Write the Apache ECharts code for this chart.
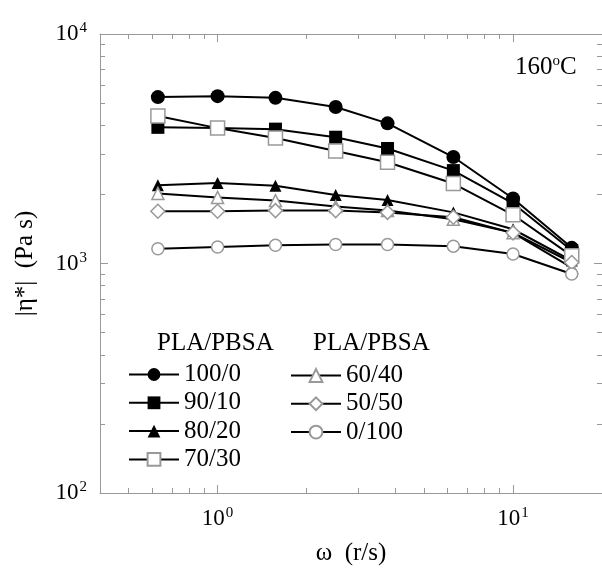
<!DOCTYPE html>
<html>
<head>
<meta charset="utf-8">
<title>Complex viscosity vs frequency</title>
<script src="https://cdn.jsdelivr.net/npm/echarts@6/dist/echarts.min.js"></script>
</head>
<body style="margin:0">
<div id="chart" style="width:602px;height:571px;"></div>
<script>
// frequency (r/s)
const omega = [0.628, 1.0, 1.57, 2.51, 3.76, 6.28, 10.0, 15.8];
// |eta*| (Pa s), PLA/PBSA blends
const eta_100_0 = [5310, 5360, 5270, 4810, 4080, 2910, 1920, 1170];
const eta_90_10 = [3920, 3890, 3850, 3550, 3170, 2540, 1830, 1140];
const eta_80_20 = [2190, 2240, 2180, 1990, 1890, 1670, 1410, 1030];
const eta_70_30 = [4390, 3890, 3520, 3090, 2760, 2230, 1630, 1080];
const eta_60_40 = [2020, 1940, 1880, 1770, 1700, 1560, 1360, 960];
const eta_50_50 = [1690, 1690, 1700, 1700, 1670, 1590, 1360, 1010];
const eta_0_100 = [1160, 1180, 1200, 1210, 1210, 1190, 1100, 900];

const legendLeft = ['100/0', '90/10', '80/20', '70/30'];
const legendRight = ['60/40', '50/50', '0/100'];

const xMajor = [1, 10];
const xMinor = [0.5, 0.6, 0.7, 0.8, 0.9, 2, 3, 4, 5, 6, 7, 8, 9];
const yMajor = [100, 1000, 10000];
const yMinor = [200, 300, 400, 500, 600, 700, 800, 900, 2000, 3000, 4000, 5000, 6000, 7000, 8000, 9000];

const gray = '#999';
const serif = '"Liberation Serif", "DejaVu Serif", serif';

// "10" with a raised exponent
const supRich = {
  a: { fontFamily: serif, fontSize: 23, color: '#000', lineHeight: 24 },
  b: { fontFamily: serif, fontSize: 15, color: '#000', lineHeight: 15, padding: [0, 0, 11, 1] }
};
const powLabel = v => '{a|10}{b|' + Math.round(Math.log10(v)) + '}';

function xAx(pos, ticks, len, showLine, showLabel) {
  return {
    type: 'log', logBase: 10, min: 0.4, max: 20, position: pos,
    axisLine: { show: showLine, lineStyle: { color: gray, width: 1 } },
    axisTick: { inside: true, length: len, customValues: ticks, lineStyle: { color: gray } },
    axisLabel: { show: showLabel, customValues: xMajor, formatter: powLabel, rich: supRich, margin: 14 },
    splitLine: { show: false }
  };
}
function yAx(pos, ticks, len, showLine, showLabel) {
  return {
    type: 'log', logBase: 10, min: 100, max: 10000, position: pos,
    axisLine: { show: showLine, lineStyle: { color: gray, width: 1 } },
    axisTick: { inside: true, length: len, customValues: ticks, lineStyle: { color: gray } },
    axisLabel: { show: showLabel, customValues: yMajor, formatter: powLabel, rich: supRich, margin: 13 },
    splitLine: { show: false }
  };
}

// major ticks + minor ticks (2..9 per decade) on all four sides
const xAxes = [
  xAx('bottom', xMajor, 8, true, true),
  xAx('bottom', xMinor, 5, false, false),
  xAx('top', xMajor, 8, true, false),
  xAx('top', xMinor, 5, false, false)
];
xAxes[0].name = 'ω  (r/s)';
xAxes[0].nameLocation = 'middle';
xAxes[0].nameGap = 48;
xAxes[0].nameTextStyle = { fontFamily: serif, fontSize: 25, color: '#000' };

const yAxes = [
  yAx('left', yMajor, 8, true, true),
  yAx('left', yMinor, 5, false, false),
  yAx('right', yMajor, 8, true, false),
  yAx('right', yMinor, 5, false, false)
];
yAxes[0].name = '|η*|  (Pa s)';
yAxes[0].nameLocation = 'middle';
yAxes[0].nameGap = 62;
yAxes[0].nameTextStyle = { fontFamily: serif, fontSize: 25, color: '#000' };

function pts(vals) { return omega.map((w, i) => [w, vals[i]]); }

function mk(name, vals, symbol, size, filled) {
  return {
    name: name, type: 'line', data: pts(vals),
    symbol: symbol, symbolSize: size, showSymbol: true,
    lineStyle: { color: '#000', width: 2 },
    itemStyle: filled
      ? { color: '#000', borderColor: '#000', borderWidth: 0 }
      : { color: '#fff', borderColor: gray, borderWidth: 1.5 },
    emphasis: { disabled: true },
    animation: false
  };
}

const legendText = { fontFamily: serif, fontSize: 25, color: '#000', lineHeight: 22 };

const option = {
  backgroundColor: '#fff',
  animation: false,
  grid: { left: 100, top: 34, width: 503, height: 468 },
  xAxis: xAxes,
  yAxis: yAxes,
  title: {
    text: '{a|160}{b|o}{a|C}', left: 515, top: 54, padding: 0,
    textStyle: {
      fontWeight: 'normal',
      rich: {
        a: { fontFamily: serif, fontSize: 25, fontWeight: 'normal', color: '#000', lineHeight: 26 },
        b: { fontFamily: serif, fontSize: 15, fontWeight: 'normal', color: '#000', lineHeight: 15, padding: [0, 0, 12, 0] }
      }
    }
  },
  graphic: [
    { type: 'text', left: 157, top: 331, style: { text: 'PLA/PBSA', font: '25px ' + serif, fill: '#000' } },
    { type: 'text', left: 313, top: 331, style: { text: 'PLA/PBSA', font: '25px ' + serif, fill: '#000' } }
  ],
  legend: [
    {
      data: legendLeft, left: 128, top: 362, orient: 'vertical', padding: 0,
      itemWidth: 50, itemHeight: 16, itemGap: 3.3, selectedMode: false,
      textStyle: legendText
    },
    {
      data: legendRight, left: 290, top: 363, orient: 'vertical', padding: 0,
      itemWidth: 50, itemHeight: 16, itemGap: 3.3, selectedMode: false,
      textStyle: legendText
    }
  ],
  series: [
    mk('100/0', eta_100_0, 'circle', 14, true),
    mk('90/10', eta_90_10, 'rect', 13, true),
    mk('80/20', eta_80_20, 'triangle', 12, true),
    mk('70/30', eta_70_30, 'rect', 14, false),
    mk('60/40', eta_60_40, 'triangle', 12, false),
    mk('50/50', eta_50_50, 'diamond', 14, false),
    mk('0/100', eta_0_100, 'circle', 12, false)
  ]
};

const chart = echarts.init(document.getElementById('chart'));
chart.setOption(option);
</script>
</body>
</html>
